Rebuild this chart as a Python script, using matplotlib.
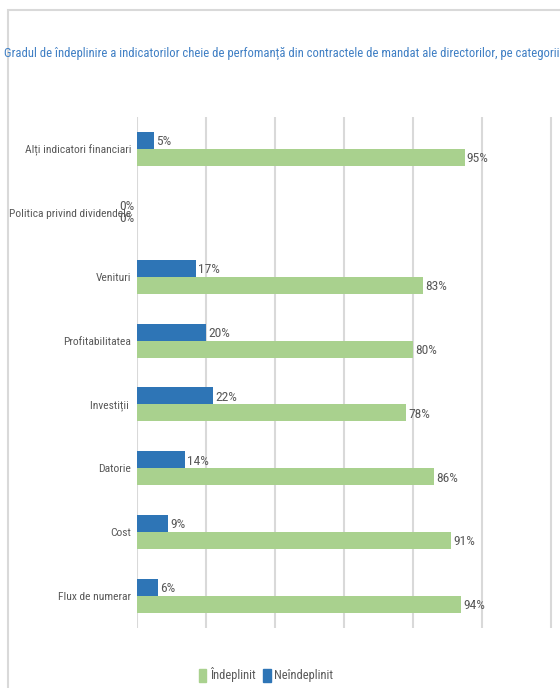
import matplotlib
matplotlib.use('Agg')
import matplotlib.pyplot as plt
from matplotlib import font_manager
from matplotlib.patches import Rectangle, Patch

# date (de jos in sus)
categorii = ["Flux de numerar", "Cost", "Datorie", "Investiții ", "Profitabilitatea",
             "Venituri", "Politica privind dividendele", "Alți indicatori financiari"]
indeplinit = [0.94, 0.91, 0.86, 0.78, 0.80, 0.83, 0.0, 0.95]
neindeplinit = [0.06, 0.09, 0.14, 0.22, 0.20, 0.17, 0.0, 0.05]
titlu = 'Gradul de îndeplinire a indicatorilor cheie de perfomanță din contractele de mandat ale directorilor, pe categorii'

fonts = {f.name for f in font_manager.fontManager.ttflist}
fam = next((f for f in ['Liberation Sans Narrow', 'Roboto Condensed', 'Lato', 'Roboto'] if f in fonts), 'DejaVu Sans')
plt.rcParams['font.family'] = [fam, 'DejaVu Sans']

W, H = 560, 688
fig = plt.figure(figsize=(W / 100, H / 100), dpi=100)
r = fig.canvas.get_renderer()


def fit(txt, width_px, size0=10):
    # marimea fontului astfel incat textul sa aiba latimea din imagine
    t = fig.text(0, 0, txt, fontsize=size0)
    w = t.get_window_extent(r).width
    t.remove()
    return size0 * width_px / w


fs_title = fit(titlu, 547)
fs_lab = fit('Politica privind dividendele', 121)
fs_val = fit('95%', 19) * 1.15
fs_leg = fit('Neîndeplinit', 51) * 1.15

# chenar
fig.patches.append(Rectangle((8 / W, -0.1), 1.2, (H - 10) / H + 0.1, transform=fig.transFigure,
                             fill=False, edgecolor='#D9D9D9', linewidth=1.5))

ax = fig.add_axes([137 / W, (H - 628) / H, (W - 137) / W, (628 - 117) / H])
y = range(len(categorii))
h = 0.266
ax.barh([i + h / 2 for i in y], neindeplinit, height=h, color='#2E75B6', label='Neîndeplinit', zorder=3)
ax.barh([i - h / 2 for i in y], indeplinit, height=h, color='#A9D18E', label='Îndeplinit', zorder=3)

gri = '#595959'
for i in y:
    for v, off in ((neindeplinit[i], h / 2), (indeplinit[i], -h / 2)):
        if v == 0:
            ax.text(-0.008, i + off * 0.7, '0%', ha='right', va='center', fontsize=fs_val, color=gri)
        else:
            ax.text(v + 0.006, i + off - 0.02, '%d%%' % round(v * 100), ha='left', va='center',
                    fontsize=fs_val, color=gri)

ax.set_xlim(0, (W - 137) / 345)
ax.set_ylim(-0.5, 7.5)
ax.set_xticks([0, 0.2, 0.4, 0.6, 0.8, 1.0, 1.2])
ax.set_xticklabels([])
ax.set_yticks(list(y))
ax.set_yticklabels(categorii, fontsize=fs_lab, color=gri)
ax.tick_params(length=0, pad=4)
ax.grid(axis='x', color='#D9D9D9', linewidth=1.5, zorder=0)
for s in ax.spines.values():
    s.set_visible(False)

fig.text(282 / W, 1 - 53 / H, titlu, ha='center', va='center', fontsize=fs_title, color='#3F7FC4')

hnd = [Patch(color='#A9D18E'), Patch(color='#2E75B6')]
fig.legend(hnd, ['Îndeplinit', 'Neîndeplinit'], loc='center', bbox_to_anchor=(266 / W, 1 - 675 / H),
           ncol=2, frameon=False, fontsize=fs_leg, handlelength=0.6, handleheight=1.2,
           handletextpad=0.3, columnspacing=0.6, labelcolor=gri)

fig.savefig('out.png', dpi=100)
